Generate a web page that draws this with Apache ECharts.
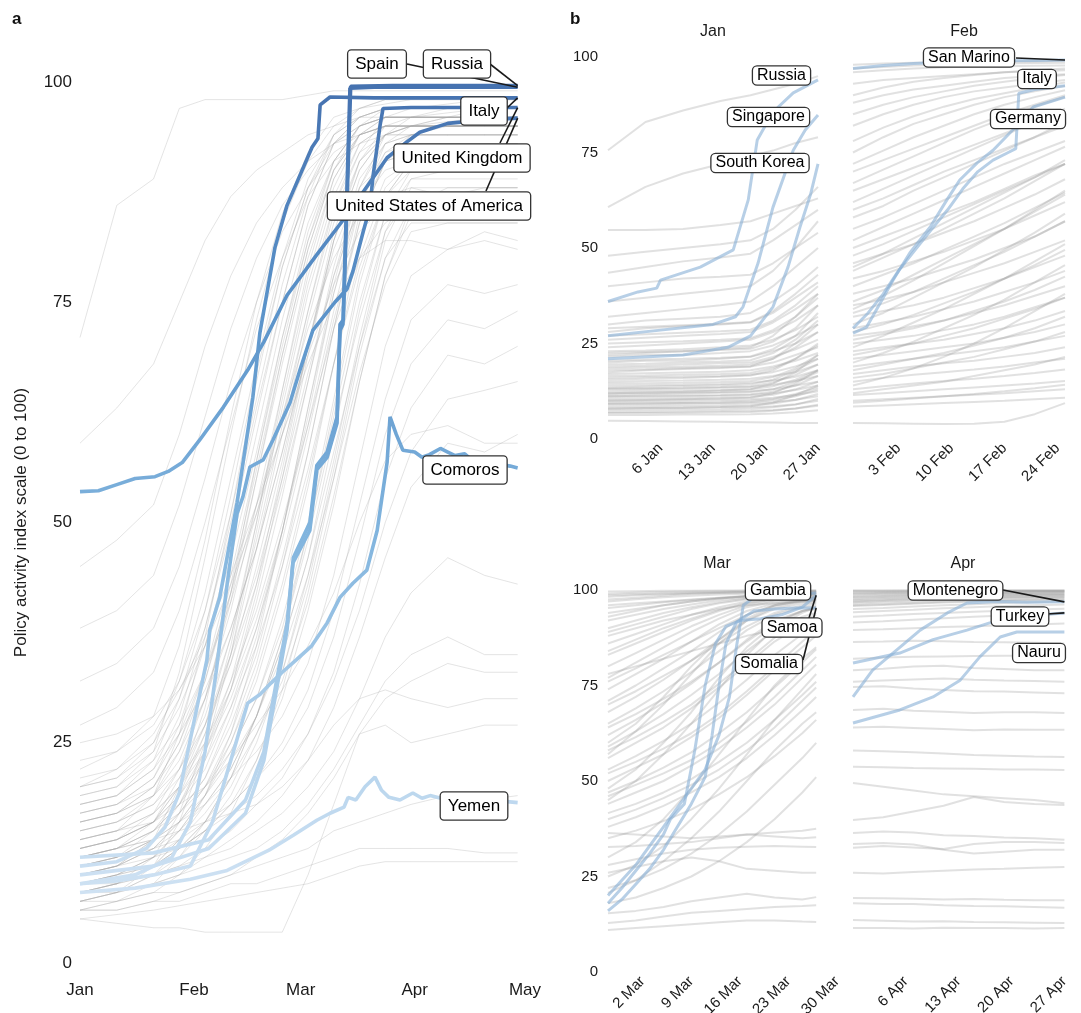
<!DOCTYPE html>
<html>
<head>
<meta charset="utf-8">
<script src="https://cdn.jsdelivr.net/npm/echarts@6/dist/echarts.min.js"></script>
<style>
  html, body { margin: 0; padding: 0; background: #fff; }
  #chart { width: 1081px; height: 1013px; }
</style>
</head>
<body>
<div id="chart"></div>
<script>
// ---------- Panel a: whole period, days counted from 1 Jan 2020 ----------
const monthTicks = [0, 31, 60, 91, 121];
const aDays = [0, 10, 20, 27, 34, 41, 48, 55, 62, 69, 76, 83, 90, 100, 110, 119];
const aGrey = [
  [71,86,89,97,98,98,98,98,98.5,99,99,99,99,99,99,99],
  [59,63,68,75,82,87,90,92,94,95,96,96,96,96.5,97,97],
  [45,48,52,60,70,78,84,88,91,93,94,95,95,95,95,95],
  [38,40,44,52,62,72,80,86,90,93,95,96,96,96,96,96],
  [32,34,38,45,55,66,75,83,88,92,94,95,95,95,95,95],
  [27,29,33,40,50,61,72,80,87,91,93,94,94,94,94,94],
  [22,24,28,36,48,62,75,85,92,96,97,97.5,98,98,98,98],
  [20,21,25,32,42,55,68,80,89,94,96,97,97,97,97,97],
  [18,19,22,28,38,50,63,75,86,93,96,97,97,97.5,98,98],
  [17,18,20,25,33,44,57,70,82,91,95,96,96,96,96,96],
  [16,17,19,23,30,40,52,65,78,88,94,96,96,96,96,96],
  [15,16,18,22,28,37,48,61,74,86,93,95,95,95.5,96,96],
  [14,15,17,20,26,34,45,57,70,83,91,94,95,95,95,95],
  [13,14,16,19,24,31,41,53,66,79,89,93,94,94,94,94],
  [12,13,15,18,22,29,38,49,62,76,87,92,93,93,93,93],
  [11,12,14,17,21,27,35,46,58,72,85,91,92,92,92,92],
  [10,11,13,16,20,25,32,42,54,68,82,89,91,91,91,91],
  [9,10,12,15,19,24,30,39,50,64,78,87,90,90,90,90],
  [8,9,11,14,18,22,28,36,46,60,74,85,89,89,89,89],
  [7,8,10,13,16,20,26,33,43,56,70,82,88,88,88,88],
  [19,20,24,33,46,60,73,84,91,95,97,98,98,98,98,98],
  [14,15,19,26,37,51,66,79,88,93,95,96,96,96,96,96],
  [10,11,14,20,29,42,57,71,83,91,95,96,96,96,96,96],
  [8,9,12,17,25,36,50,65,79,89,94,95,95,95,95,95],
  [12,13,16,21,27,35,44,55,67,78,86,90,91,91,91,91],
  [16,17,20,24,30,38,47,58,70,81,88,91,92,92,92,92],
  [6,7,9,12,16,21,28,37,48,61,73,83,87,87,87,87],
  [9,10,12,14,17,21,26,32,41,53,66,78,85,86,86,86],
  [11,12,14,16,19,23,28,35,44,55,67,77,83,84,84,84],
  [13,14,17,22,30,41,55,69,81,90,94,95,95,95,95,95],
  [7,8,11,16,24,35,49,63,76,86,92,94,94,94,94,94],
  [18,19,23,30,40,53,67,79,88,94,96,97,97,97,97,97],
  [10,11,13,15,18,22,28,36,46,58,70,80,84,84,84,84],
  [12,13,14,16,18,21,24,28,34,44,57,70,78,81,83,82],
  [9,10,11,13,15,18,21,25,31,40,52,64,73,77,76,77],
  [11,12,13,14,16,18,21,24,29,37,48,60,68,73,72,74],
  [8,9,10,11,13,15,18,21,26,33,43,55,63,69,68,70],
  [10,11,12,13,15,17,19,22,26,32,40,50,58,64,65,66],
  [7,8,9,10,12,14,16,19,23,29,37,46,54,59,58,60],
  [9,9,10,11,12,13,15,17,20,24,30,37,42,46,44,43],
  [8,8,9,10,11,12,13,15,18,22,27,32,35,37,35,35],
  [6,6,7,8,9,10,12,14,17,21,26,30,32,34,33,33],
  [5,4.5,4,4,3.5,3.5,3.5,3.5,10,18,26,27,25,26,27,27],
  [7,7,8,8,9,10,11,12,13,15,16,17,18,19,18.5,19],
  [6,6,7,7,8,9,9,10,11,12,13,13,13,13,12.5,12.5],
  [5,5.5,6,6.5,7,7.5,8,8.5,9,10,11,11.5,11.5,11.5,11.5,11.5],
  [12,13,14,15,16,17,18,20,23,27,30,31,30,29,30,30],
  [14,15,16,18,20,23,27,31,36,42,50,57,60,61,59,59],
  [20,22,26,31,37,44,52,60,68,75,80,82,82,81,82,81],
  [25,26,28,31,36,43,51,60,69,77,83,86,87,87,87,87],
  [17,18,21,26,33,42,52,62,72,80,85,87,88,87,88,88],
  [13,14,16,20,25,32,40,50,61,72,80,84,86,86,86,86],
  [21,22,25,30,38,49,62,75,86,93,96,97,97,97,97,97],
  [17,18,21,27,36,47,60,73,84,91,95,96,96,96,96,96],
  [15,16,19,24,32,43,56,69,81,90,94,95,95,95,95,95],
  [13,14,16,20,27,37,50,64,77,87,93,95,95,95,95,95],
  [12,13,15,18,23,31,42,55,69,82,90,94,95,95,95,95],
  [11,12,14,17,21,28,37,49,63,77,88,93,94,94,94,94],
  [10,11,13,16,20,26,34,45,58,72,84,91,93,93,93,93],
  [9,10,12,15,19,25,33,43,55,68,80,88,91,92,92,92],
  [8,9,11,13,16,21,28,37,49,63,77,87,91,91,91,91],
  [14,15,17,20,24,30,38,48,60,73,84,91,94,95,95,95],
  [16,17,19,22,27,34,43,54,66,78,88,94,96,96,97,97],
  [19,20,23,27,33,41,51,62,74,85,92,96,97,97,97,97],
  [23,24,27,32,40,51,64,77,87,94,97,98,98,98,98,98],
  [11,12,15,19,26,35,47,60,73,84,91,94,95,95,95,95],
  [7,8,10,12,15,19,25,33,44,57,71,83,89,90,90,90],
  [9,10,11,13,15,18,23,30,40,52,66,78,86,88,88,88],
  [12,13,15,17,20,24,30,38,49,62,75,85,90,91,91,91],
  [15,16,18,21,25,31,39,49,61,74,86,93,95,96,96,96],
  [18,19,22,26,31,38,47,58,70,82,91,95,96,96,96,96],
  [10,11,14,18,24,32,43,56,70,82,90,94,95,96,96,96],
  [13,14,16,19,23,29,36,45,56,68,79,87,91,92,92,92],
  [8,9,11,14,19,26,36,49,63,76,86,92,94,94,94,94],
  [6,7,8,10,13,17,23,31,42,55,69,80,86,87,87,87],
  [20,21,24,29,36,46,58,71,82,90,95,97,97,97,97,97],
  [16,17,20,25,32,42,55,68,80,89,94,96,96,97,97,97]
];
const aSpain = [[0,10],[20,11],[35,13],[45,17],[50,23],[53,30],[56.3,37.8],[57.9,45.4],[62.5,49.1],[64.4,56],[67.2,57.4],[69.9,61.3],[70.7,71.8],[71.5,72.5],[73.4,99.3],[80,99.4],[90,99.4],[100,99.4],[110,99.4],[119,99.4]];
const aRussia = [[0,12],[20,12.5],[35,14],[45,18.5],[50,24],[53,31],[56.3,38.5],[58,46],[62.5,50],[64.4,56.5],[67.2,58],[69.9,62],[70.7,72.5],[71.6,73],[73.6,99.5],[85,99.6],[100,99.6],[119,99.6]];
const aItaly = [[0,11],[10,11.5],[18,13],[23.1,15.4],[27,19.3],[30.7,26.8],[34.5,34.4],[35.3,37.8],[38,41.5],[42.7,52.2],[44.3,56.7],[47,64.2],[48.9,71.5],[51.7,78.1],[53,81.2],[56.3,86],[59.8,89.4],[63.1,92.6],[64.7,93.6],[65.3,97.4],[68,98.3],[80,98.2],[95,98.2],[110,98.2],[119,98.2]];
const aUK = [[0,9],[15,10],[25,12],[30,16],[34,24],[37,33],[40,43],[42.7,51],[44.3,52.9],[46.2,56.3],[49.8,57.1],[52.5,59.4],[57.1,63.6],[59.8,67.3],[63.3,71.8],[69.3,75],[72.6,76.5],[74.2,78.5],[77,83],[78.8,85.7],[79.7,89.4],[81.6,95.1],[82.4,97],[90,97.1],[105,97.1],[119,97.1]];
const aUSA = [[0,53.5],[5,53.6],[10,54.3],[15,55],[20.4,55.2],[24,55.8],[27.8,56.8],[32.6,59.4],[39,63.1],[45.6,67.3],[50,70.5],[56.3,75.8],[64.4,80.4],[72.6,84.9],[78.8,88.6],[83.5,91.4],[88.9,93.2],[92.4,94.3],[100,95.3],[110,95.7],[119,95.9]];
const aComoros = [[0,9],[10,9.3],[20,10],[30,11],[36,16],[41,23],[45.6,29.5],[49,30.5],[52,31.8],[55,33],[58.8,34.4],[63,36],[67.2,38.6],[70.7,41.5],[74.2,43.1],[78,44.6],[80.8,49.1],[83.5,56.8],[84.3,62],[86,60],[87.8,58.2],[91,58],[93,57.4],[95,57.7],[98,58.4],[100,58],[102,57.6],[104.6,57.8],[107,56.9],[109.3,56.5],[112,57],[114,56.6],[117,56.4],[119,56.2]];
const aYemen = [[0,8],[15,8.5],[30,9.5],[40,10.5],[51.4,12.8],[58,14.5],[64.4,16.2],[68,17],[71.8,17.7],[72.9,18.8],[75,18.5],[77.5,20],[80.2,21.1],[82,19.6],[84,18.8],[87,18.5],[90.5,19.3],[93,18.7],[95.2,19],[100,18.5],[105,18.7],[110,18.2],[114,18.4],[119,18.2]];

// ---------- Panel b, Jan window ----------
const janTicks = [5, 12, 19, 26];
const janDays = [-2, 3, 8, 13, 17, 20, 23, 26];
const janGrey = [
  [75.6,83,86,88.5,90,91.5,93,95],
  [60.7,66,69.5,72,74,75.5,77.5,79],
  [54.7,54.7,55,56,57,59,61,63],
  [43.5,45,46.5,47.5,48.5,52,56,60],
  [40,41,42,42.5,43,46,50,54],
  [48,49,50,51,52,55,60,66],
  [36,37,38,39,40,44,50,57],
  [32,33,34,35,36,40,45,50],
  [30,31,31.5,32,33,36,40,45],
  [28,29,29.5,30,30.5,33,37,41],
  [26,26.5,27,27.5,28,30.5,34,38],
  [24,24.5,25,25.5,26,28,31,35],
  [23,23.2,23.5,24,24.5,26,28.5,32],
  [22,22.5,23,23.5,24,27,32,38],
  [21.5,22,22,22.5,23,24.5,27,30],
  [20,20.5,20.5,21,21.5,23,25,28],
  [19,19.2,19.5,19.8,20,21.5,23.5,26],
  [18,18.2,18.5,18.8,19,20,22,24],
  [17.5,18,18.3,18.6,19,21,25,30],
  [17,17.2,17.4,17.6,18,19,20.5,22.5],
  [16,16.2,16.3,16.5,16.8,17.5,19,21],
  [15.5,15.8,16,16.3,16.6,18,21,25],
  [15,15.2,15.3,15.5,15.8,16.5,17.5,19.5],
  [14,14.1,14.2,14.4,14.7,15.3,16.3,18],
  [13.5,13.7,13.9,14.1,14.3,15.5,18,21],
  [13,13.1,13.2,13.4,13.6,14.2,15.2,16.5],
  [12,12.1,12.2,12.3,12.5,13,14,15],
  [11.5,11.7,11.9,12.1,12.3,13,15,17.5],
  [11,11.1,11.2,11.3,11.5,12,12.8,14],
  [10,10.1,10.2,10.3,10.4,10.8,11.5,12.5],
  [9.5,9.6,9.7,9.8,10,10.5,11.8,13.5],
  [9,9.1,9.2,9.3,9.4,9.7,10.3,11.2],
  [8,8.1,8.2,8.3,8.4,8.6,9.1,10],
  [7,7.1,7.2,7.3,7.4,7.6,8,8.7],
  [6.3,6.3,6.4,6.4,6.5,6.7,7,7.5],
  [4.8,4.7,4.6,4.5,4.4,4.3,4.2,4.2],
  [6.8,6.8,6.9,7,7.1,7.4,8,9],
  [7.5,7.6,7.7,7.8,7.9,8.3,9,10.5],
  [8.5,8.6,8.7,8.8,8.9,9.3,10.2,11.8],
  [9.2,9.3,9.4,9.5,9.7,10.2,11.2,13],
  [10.5,10.6,10.7,10.8,11,11.6,13,15],
  [11.2,11.3,11.4,11.5,11.7,12.4,14,16.5],
  [12.5,12.6,12.7,12.8,13,13.8,15.5,18],
  [13.2,13.3,13.4,13.6,13.8,14.8,16.8,19.5],
  [14.5,14.6,14.7,14.9,15.2,16.2,18.5,22],
  [16.5,16.6,16.8,17,17.3,18.5,21,24.5],
  [18.5,18.7,18.9,19.2,19.5,21,24,28],
  [19.5,19.7,20,20.3,20.6,22.5,26,31],
  [20.5,20.8,21,21.3,21.6,23.5,27,33],
  [22.5,22.8,23,23.3,23.6,25.5,29,35],
  [25,25.3,25.6,26,26.4,28.5,32,37],
  [27,27.4,27.8,28.2,28.6,31,35,40],
  [29,29.4,29.8,30.2,30.6,33.5,38,43],
  [12,12.2,12.4,12.7,13,14.5,17.5,22],
  [10,10.2,10.4,10.6,10.8,12,14.5,18],
  [8,8.1,8.2,8.4,8.6,9.5,11.5,14]
];
const janRussia = [[-2,36],[2,38.5],[4.5,39.5],[5,41.6],[10.3,45],[14.7,49.5],[16.7,62.6],[17.9,78.3],[20,85.6],[22.7,90.6],[26,94]];
const janSingapore = [[-2,27],[5,28.5],[12,30],[15,32],[16,34.6],[18,46],[20,60.7],[22.7,75.6],[24.3,80.9],[26,84.8]];
const janSouthKorea = [[-2,21],[8,22],[14,24],[17,27],[20,34.6],[22,45],[23.6,55.5],[25,64],[26,72]];

// ---------- Panel b, Feb window ----------
const febTicks = [33, 40, 47, 54];
const febDays = [27, 31, 35, 39, 43, 47, 51, 55];
const febGrey = [
  [98,98.3,98.5,98.6,98.7,98.8,98.9,99],
  [97,97.4,97.8,98,98.2,98.3,98.4,98.5],
  [96,96.5,97,97.3,97.5,97.6,97.7,97.8],
  [93,94,94.5,95,95.5,96,96.3,96.5],
  [90,92,93.5,94.5,95.3,96,96.5,97],
  [88,90,91.5,92.5,93.5,94.5,95,95.5],
  [85,87.5,89.5,91,92.5,93.5,94.5,95.3],
  [82,85,87.5,89.5,91,92,93,94],
  [78,81.5,84.5,87,89,90.5,92,93.3],
  [75,79,82.5,85,87.5,89.5,91,92.5],
  [72,75.5,79,82,85,87.5,89.5,91.3],
  [70,73,76,79,82,85,87.5,90],
  [67,70.5,74,77.5,81,84,87,89.5],
  [65,68,71,74,77,80,83,86],
  [62,65.5,69,72.5,76,79.5,83,86.5],
  [60,63,66.5,70,73,76,79,82],
  [58,61,65,68.5,72,75.5,79,83],
  [55,58,61.5,65,68.5,72,75,78],
  [52,55.5,59,62.5,66,69.5,73,76.5],
  [50,53,56,59,62,65.5,69,72],
  [48,51,54.5,58,61.5,65,68.5,72],
  [46,48.5,51,54,57,60.5,64,68],
  [45,48.5,52.5,56.5,60.5,64.5,68.5,73],
  [44,47.5,51,55,59,63,67.5,72],
  [42,44,46.5,49,52,55,58.5,62],
  [40,43,46,49.5,53,56.5,60.5,64.5],
  [38,40,42,44.5,47,50,53,57],
  [36,39,43,47,51,55,60,65],
  [35,36.5,38.5,41,43.5,46,49,52],
  [34,37.5,41.5,46,50.5,55,59.5,64],
  [33,35.5,38.5,42,45.5,49,53,57],
  [32,33.5,35,37,39.5,42,45,48],
  [30,33,37,41,45,49.5,54,59],
  [29,30.5,32,34,36,38.5,41,44],
  [28,30,32.5,35.5,38.5,42,45.5,49.5],
  [27,28,29.5,31,33,35,37.5,40],
  [26,27.5,29,31,33.5,36,39,42.5],
  [25,26,27,28.5,30,32,34.5,37],
  [24,27,30.5,34,38,42,46.5,51],
  [23,24,25,26,27.5,29,31,33.5],
  [22,23.5,25,27,29,31.5,34,37],
  [21,22,23,24,25,26.5,28,30],
  [20,22.5,25.5,29,32.5,36.5,41,45.5],
  [19,20,21,22,23,24,25.5,27],
  [18,19.5,21,22.5,24.5,26.5,29,32],
  [17,18,19,19.8,20.5,21.5,22.5,24],
  [16,17,18.5,20,21.5,23.5,25.5,28],
  [15,16,16.8,17.5,18.2,19,20,21],
  [14,16,18.5,21.5,25,29,33.5,38],
  [13,13.8,14.5,15.2,15.8,16.5,17.3,18.2],
  [12,13,14,15,16.5,18,19.5,21.5],
  [11.5,12,12.5,13,13.5,14,14.5,15.2],
  [10,10.4,10.8,11.2,11.6,12,12.5,13],
  [9.5,10,10.6,11.2,11.8,12.5,13.3,14.2],
  [8.5,8.8,9.1,9.4,9.7,10,10.4,10.8],
  [4.2,4.1,4,3.9,4,4.5,6.5,9.4]
];
const febSanMarino = [[27,97],[31,97.8],[35,98.3],[39,98.6],[43,98.8],[47,99],[51,99.1],[55,99.2]];
const febItaly = [[27,29],[29,33],[31,38],[33,44],[35,49],[37,54],[39.5,60],[41.5,65.5],[43.5,70],[45.5,73],[47.5,75],[48.5,76],[48.9,90.5],[51,91.5],[55,92.5]];
const febGermany = [[27,27.7],[28.8,29.3],[30.6,35.6],[32.3,41.6],[34.5,48.7],[37.2,55.5],[39.4,62.6],[41.1,67.8],[43.4,72.3],[45.5,75.6],[48.1,80.9],[50.8,86.9],[55,89.5]];

// ---------- Panel b, Mar window ----------
const marTicks = [61, 68, 75, 82, 89];
const marDays = [56, 60, 64, 68, 72, 76, 80, 84, 86];
const marGrey = [
  [99.6,99.7,99.8,99.8,99.9,99.9,99.9,99.9,99.9],
  [99,99.3,99.5,99.6,99.7,99.8,99.8,99.9,99.9],
  [98.6,98.9,99.1,99.3,99.4,99.5,99.6,99.6,99.6],
  [98.2,98.6,98.9,99.1,99.3,99.4,99.5,99.6,99.6],
  [97.5,98,98.5,99,99.2,99.4,99.5,99.6,99.6],
  [97,97.6,98.1,98.5,98.8,99,99.2,99.3,99.3],
  [96,96.5,97,97.5,98,98.5,99,99.2,99.3],
  [95.3,96,96.8,97.4,97.9,98.3,98.6,98.8,98.9],
  [94,95,96,97,97.8,98.3,98.7,99,99],
  [93,94.5,96,97,97.8,98.4,98.9,99.2,99.3],
  [92,93.5,95,96.2,97.3,98,98.5,98.8,98.9],
  [90,92,94,95.5,96.8,97.8,98.4,98.7,98.8],
  [89,91,93,95,96.5,97.5,98.2,98.5,98.6],
  [88,90,92,93.5,95,96,96.5,97,97],
  [86,88.5,91,93.5,95.5,97,98,98.3,98.4],
  [84,87,90,92.5,94.8,96.6,97.7,98.1,98.2],
  [83,86,89,92,94.5,96.5,97.5,98,98.1],
  [80,83.5,87,90.5,93.5,96,97.3,97.8,98],
  [78,80,82,84,86,88,89.5,90.5,91],
  [77,81,85,89,92.5,95.5,97,97.6,97.8],
  [76,79.5,83,86.5,90,93.5,96,97.2,97.5],
  [74,78,82,86.5,91,94.5,96.5,97.3,97.5],
  [71,75,79.5,84,89,93.5,96,97,97.2],
  [70,73.5,77.5,81.5,86,90.5,94,96,96.5],
  [68,72,76.5,81.5,87,92,95,96.5,96.8],
  [65,69,73.5,78.5,84,89.5,93.5,95.5,96],
  [64,67.5,71.5,76,81,86.5,91.5,94.5,95.5],
  [62,66,70.5,75.5,81,87,92,94.5,95],
  [60,65,72,80,87,92.5,96,97.5,98],
  [59,63,67.5,72.5,78,84,89.5,93,94],
  [58,61.5,65.5,70,75.5,81.5,87.5,92,93.5],
  [57,63,70,78,86,92,95.5,97,97.5],
  [56,60,64,69,74.5,80.5,86.5,91,92.5],
  [53,56.5,60.5,65,70.5,76.5,83,88.5,90.5],
  [52,55,58.5,62.5,67.5,73.5,80,86.5,89.5],
  [50,53.5,57,61.5,66.5,72.5,79,85,88],
  [48,53,60,68,77,85,91,94.5,95.5],
  [47,50,53.5,57.5,62.5,68,74.5,81,84.5],
  [46,49,52,55.5,60,65.5,72,79,82.5],
  [45,50,57,65,74,83,90,94,95.5],
  [44,47,50,54,58.5,64,70,77,80.5],
  [41.6,44,47,50.5,55,60,66,72.5,76],
  [40,42.5,45.5,49,53,58,64,71,74.5],
  [38,40.5,43.5,47,51,56,62,68.5,72],
  [35,37,39.5,42.5,46.5,51,56.5,62.5,66],
  [30,34,40,48,57,66,75,82,85],
  [25,28,33,40,48,57,66,74,78],
  [22,24,27,31,36,42,49,56,60],
  [20.7,24,29,35,42,50,58,65,68],
  [18,19.5,22,25,29,34,40,47,51],
  [36.4,36,35.5,35,35.5,36,35.5,35,35.3],
  [32.7,33,33.5,34,35,36,36.5,37,37.5],
  [28,29.5,31,32,32.5,32.8,33,32.8,32.7],
  [26,27.5,29,30,29,27,26.5,26,26],
  [15.4,16,17,18.5,19.5,20.5,19.5,19,19.6],
  [12.8,13.5,14.5,15.5,16,16.5,17,17.3,17.5],
  [11,11.5,12,12.5,13,13.5,13.5,13.2,13.1]
];
const marGambia = [[56,20],[58,24],[60,28],[62,33],[64,38],[66,43],[68,48],[70,53],[72,62],[73.5,72],[74.5,85],[75.5,96],[77,98],[80,98.5],[83,98.8],[86,99.2]];
const marSamoa = [[56,18],[58,22],[60,26.5],[62,31],[64,36],[65,40],[67,44],[68.5,58],[70,75],[71.5,86],[73,90.5],[75,92],[78,92.5],[81,93.5],[84,95.5],[86,98.6]];
const marSomalia = [[56,16],[58,19],[60,23],[62,27],[64,32],[66,38],[68,44],[70,51],[71,62],[72,75],[73,86],[74.5,91.5],[77,94.5],[80,95],[83,95.3],[86,95.3]];

// ---------- Panel b, Apr window ----------
const aprTicks = [96, 103, 110, 117];
const aprDays = [89, 93, 97, 101, 105, 109, 113, 117];
const aprGrey = [
  [99.9,99.9,99.9,99.9,99.9,99.9,99.9,99.9],
  [99.8,99.8,99.9,99.9,99.9,99.9,99.9,99.9],
  [99.6,99.6,99.7,99.7,99.8,99.8,99.8,99.8],
  [99.3,99.4,99.5,99.6,99.6,99.7,99.7,99.7],
  [99.1,99.2,99.3,99.4,99.5,99.5,99.6,99.6],
  [98.8,99,99.1,99.2,99.3,99.3,99.4,99.4],
  [98.5,98.7,98.9,99,99.1,99.2,99.2,99.3],
  [98.2,98.4,98.6,98.8,98.9,99,99,99.1],
  [98,98.2,98.4,98.6,98.7,98.8,98.9,98.9],
  [97.6,97.9,98.1,98.3,98.5,98.6,98.7,98.7],
  [97.3,97.6,97.9,98.1,98.3,98.4,98.5,98.6],
  [97,97.3,97.6,97.9,98.1,98.2,98.3,98.3],
  [96.8,97.1,97.4,97.7,97.9,98,98.1,98.2],
  [96.4,96.7,97,97.3,97.6,97.8,97.9,98],
  [96,96.3,96.6,96.9,97.1,97.3,97.5,97.6],
  [95.8,96.1,96.4,96.7,97,97.2,97.4,97.5],
  [95,95.3,95.7,96,96.3,96.6,96.8,97],
  [94.2,94.5,94.8,95.2,95.5,95.8,96,96.2],
  [93,93.3,93.7,94,94.3,94.6,94.9,95.1],
  [91.5,91.8,92.2,92.6,93,93.3,93.6,93.8],
  [89.5,89.7,90,90.3,90.5,90.8,91,91.2],
  [86.4,86.5,86.7,86.6,86.4,86.3,86.2,86],
  [82,82.3,82.5,82.6,82.7,82.8,82.8,82.9],
  [79,79.4,80,80.2,79.6,79.3,79,79],
  [76,76.3,76.6,76.8,76.5,76.3,76.2,76],
  [74.6,74.8,74.2,73.8,73.5,73.4,73.2,73],
  [68.6,68.9,68.4,68.1,67.8,68,68,67.8],
  [64,64.2,63.9,63.6,63.3,63.5,63.4,63.4],
  [58,57.8,57.5,57.2,56.8,56.6,56.4,56.3],
  [53.7,53.6,53.4,53.3,53.2,53,53,52.9],
  [49.5,48.5,47.5,46.5,46,45.5,45,44.2],
  [39.8,40.5,42,43.5,45.8,44.5,44,43.7],
  [36.4,36.8,36.5,35.8,35.6,35.2,35,34.6],
  [33.5,33.8,33.4,32,31,31.5,32,32],
  [32.5,33,32.6,32.2,33.5,34,34,33.8],
  [26,25.8,26.2,26.5,26.8,27,27.3,27.5],
  [19.4,19.3,19.2,19,19.1,18.9,18.8,18.8],
  [18,17.8,17.8,17.5,17.3,17.2,17,16.8],
  [13.6,13.4,13.2,13.3,13.1,13,12.9,12.8],
  [11.5,11.5,11.4,11.6,11.5,11.5,11.4,11.5]
];
const aprMontenegro = [[89,72],[91.6,79],[95.2,85],[97.9,89.5],[101.5,94],[104.1,96.6],[108,97],[112,96.8],[117,96.9]];
const aprTurkey = [[89,80.9],[95.2,83.5],[99.6,87],[104.1,89.5],[107.1,91.4],[111,92.8],[114,93.5],[117,94]];
const aprNauru = [[89,65.2],[95.2,68.6],[99.6,72],[103.2,76.4],[105.8,82.5],[108.5,87.7],[110.7,89],[114,89],[117,89]];

// ---------- layout & styling ----------
const FONT = '"Liberation Sans", Arial, Helvetica, sans-serif';
const INK = '#1a1a1a';
const MONTHS = ['Jan', 'Feb', 'Mar', 'Apr', 'May'];
const toDate = d => new Date(Date.UTC(2020, 0, 1 + d));
const monthName = d => MONTHS[toDate(d).getUTCMonth()];
const dayMonth = d => { const t = toDate(d); return t.getUTCDate() + ' ' + MONTHS[t.getUTCMonth()]; };

const grids = [
  { left: 80,  top: 82,  width: 445,   height: 881, range: [0, 121],  ticks: monthTicks, fmt: monthName, yLabels: true },
  { left: 608, top: 57,  width: 210,   height: 382, range: [-2, 26],  ticks: janTicks, fmt: dayMonth, yLabels: true },
  { left: 853, top: 57,  width: 212,   height: 382, range: [27, 55],  ticks: febTicks, fmt: dayMonth, yLabels: false },
  { left: 608, top: 590, width: 229,   height: 382, range: [56, 89],  ticks: marTicks, fmt: dayMonth, yLabels: true },
  { left: 853, top: 590, width: 211.4, height: 382, range: [89, 117], ticks: aprTicks, fmt: dayMonth, yLabels: false }
];

// label boxes: centre of each box; `from` is where a leader segment leaves the box
const labelsA = [
  { name: 'Spain', line: aSpain, at: [377, 64], from: [407, 64] },
  { name: 'Russia', line: aRussia, at: [457, 64], from: [490, 64] },
  { name: 'Italy', line: aItaly, at: [484, 111], from: [507, 108] },
  { name: 'United Kingdom', line: aUK, at: [462, 158], from: [500, 143] },
  { name: 'United States of America', line: aUSA, at: [429, 206], from: [486, 191] },
  { name: 'Comoros', line: aComoros, at: [465, 470] },
  { name: 'Yemen', line: aYemen, at: [474, 806] }
];
const labelsJan = [
  { name: 'Russia', line: janRussia, at: [781.5, 75.5] },
  { name: 'Singapore', line: janSingapore, at: [768.5, 117] },
  { name: 'South Korea', line: janSouthKorea, at: [760, 163] }
];
const labelsFeb = [
  { name: 'San Marino', line: febSanMarino, at: [969, 57.5], from: [1016, 58] },
  { name: 'Italy', line: febItaly, at: [1037, 79] },
  { name: 'Germany', line: febGermany, at: [1028, 119] }
];
const labelsMar = [
  { name: 'Gambia', line: marGambia, at: [778, 590.5] },
  { name: 'Samoa', line: marSamoa, at: [792, 627.5], from: [809, 618] },
  { name: 'Somalia', line: marSomalia, at: [769, 664], from: [803, 660] }
];
const labelsApr = [
  { name: 'Montenegro', line: aprMontenegro, at: [955.5, 590.5], from: [1003, 590] },
  { name: 'Turkey', line: aprTurkey, at: [1020, 616.5], from: [1047, 614] },
  { name: 'Nauru', line: aprNauru, at: [1039, 653] }
];
const labelSets = [[0, labelsA], [1, labelsJan], [2, labelsFeb], [3, labelsMar], [4, labelsApr]];

const series = [];
const highlightA = [];

function addGrey(g, days, rows, color, width) {
  rows.forEach(r => series.push({
    type: 'line', xAxisIndex: g, yAxisIndex: g, silent: true, z: 1,
    symbol: 'none', showSymbol: false,
    data: days.map((d, i) => [d, r[i]]),
    lineStyle: { color: color, width: width }
  }));
}
function addHighlight(g, pts, style, track) {
  if (track) highlightA.push(series.length);
  series.push({
    type: 'line', xAxisIndex: g, yAxisIndex: g, silent: true, z: 3,
    symbol: 'none', showSymbol: false, data: pts, lineStyle: style
  });
}
function addLabels(g, items, fontSize, padding, radius) {
  series.push({
    type: 'scatter', xAxisIndex: g, yAxisIndex: g, silent: true, z: 10,
    symbolSize: 1, itemStyle: { color: 'rgba(0,0,0,0)', opacity: 1 },
    data: items.map(it => ({ name: it.name, value: it.line[it.line.length - 1] })),
    label: {
      show: true, formatter: '{b}', fontFamily: FONT, fontSize: fontSize, color: '#000',
      opacity: 1, textBorderWidth: 0,
      backgroundColor: '#fff', borderColor: '#333', borderWidth: 1.3,
      borderRadius: radius, padding: padding
    },
    labelLayout: p => ({ x: items[p.dataIndex].at[0], y: items[p.dataIndex].at[1], align: 'center', verticalAlign: 'middle' })
  });
}

// panel a
addGrey(0, aDays, aGrey, 'rgba(165,165,165,0.3)', 1);
[aYemen, aComoros, aUSA, aUK, aItaly, aRussia, aSpain].forEach(p => addHighlight(0, p, { width: 3.6 }, true));
addLabels(0, labelsA, 17, [5, 7], 3);

// panel b
const BLUE_B = { color: 'rgba(135,175,213,0.6)', width: 3 };
const GREY_B = 'rgba(150,150,150,0.29)';
addGrey(1, janDays, janGrey, GREY_B, 2);
[janSouthKorea, janSingapore, janRussia].forEach(p => addHighlight(1, p, BLUE_B, false));
addGrey(2, febDays, febGrey, GREY_B, 2);
[febSanMarino, febGermany, febItaly].forEach(p => addHighlight(2, p, BLUE_B, false));
addGrey(3, marDays, marGrey, GREY_B, 2);
[marSomalia, marSamoa, marGambia].forEach(p => addHighlight(3, p, BLUE_B, false));
addGrey(4, aprDays, aprGrey, GREY_B, 2);
[aprNauru, aprTurkey, aprMontenegro].forEach(p => addHighlight(4, p, BLUE_B, false));
[[1, labelsJan], [2, labelsFeb], [3, labelsMar], [4, labelsApr]].forEach(([g, items]) => addLabels(g, items, 16, [1, 4], 4));

const option = {
  animation: false,
  backgroundColor: '#fff',
  textStyle: { fontFamily: FONT, color: INK },
  title: [
    { text: 'a', left: 12, top: 11, padding: 0, textStyle: { fontFamily: FONT, fontSize: 17, fontWeight: 'bold', color: '#111' } },
    { text: 'b', left: 570, top: 11, padding: 0, textStyle: { fontFamily: FONT, fontSize: 17, fontWeight: 'bold', color: '#111' } },
    { text: 'Jan', left: 713, top: 24, padding: 0, textAlign: 'center', textStyle: { fontFamily: FONT, fontSize: 16, fontWeight: 'normal', color: INK } },
    { text: 'Feb', left: 964, top: 24, padding: 0, textAlign: 'center', textStyle: { fontFamily: FONT, fontSize: 16, fontWeight: 'normal', color: INK } },
    { text: 'Mar', left: 717, top: 556, padding: 0, textAlign: 'center', textStyle: { fontFamily: FONT, fontSize: 16, fontWeight: 'normal', color: INK } },
    { text: 'Apr', left: 963, top: 556, padding: 0, textAlign: 'center', textStyle: { fontFamily: FONT, fontSize: 16, fontWeight: 'normal', color: INK } }
  ],
  grid: grids.map(g => ({ left: g.left, top: g.top, width: g.width, height: g.height, containLabel: false, outerBoundsMode: 'none' })),
  xAxis: grids.map((g, i) => ({
    gridIndex: i, type: 'value', min: g.range[0], max: g.range[1],
    axisLine: { show: false }, axisTick: { show: false }, splitLine: { show: false },
    axisLabel: i === 0
      ? { customValues: g.ticks, formatter: v => g.fmt(v), fontSize: 17, color: INK, margin: 19, fontFamily: FONT }
      : { customValues: g.ticks, formatter: v => g.fmt(v), fontSize: 15, color: INK, margin: 7, rotate: 45, fontFamily: FONT }
  })),
  yAxis: grids.map((g, i) => ({
    gridIndex: i, type: 'value', min: 0, max: 100, interval: 25,
    axisLine: { show: false }, axisTick: { show: false }, splitLine: { show: false },
    axisLabel: { show: g.yLabels, fontSize: i === 0 ? 17 : 15, color: INK, margin: i === 0 ? 8 : 10, fontFamily: FONT },
    name: i === 0 ? 'Policy activity index scale (0 to 100)' : '',
    nameLocation: 'middle', nameRotate: 90, nameGap: 50,
    nameTextStyle: { fontSize: 17, color: INK, fontFamily: FONT }
  })),
  visualMap: {
    type: 'continuous', show: false, dimension: 1, min: 0, max: 100,
    seriesIndex: highlightA,
    inRange: { color: ['#dce9f6', '#b3d2ec', '#7fb3dd', '#5a92c9', '#4571af'] }
  },
  series: series
};

const chart = echarts.init(document.getElementById('chart'), null, { renderer: 'canvas' });
chart.setOption(option);

// leader segments from label boxes to the end of the line they name
const leaders = [];
labelSets.forEach(([g, items]) => items.forEach(it => {
  if (!it.from) return;
  const end = chart.convertToPixel({ gridIndex: g }, it.line[it.line.length - 1]);
  leaders.push({
    type: 'line', z: 5, silent: true,
    shape: { x1: it.from[0], y1: it.from[1], x2: end[0], y2: end[1] },
    style: { stroke: INK, lineWidth: 1.6 }
  });
}));
chart.setOption({ graphic: leaders });
</script>
</body>
</html>
